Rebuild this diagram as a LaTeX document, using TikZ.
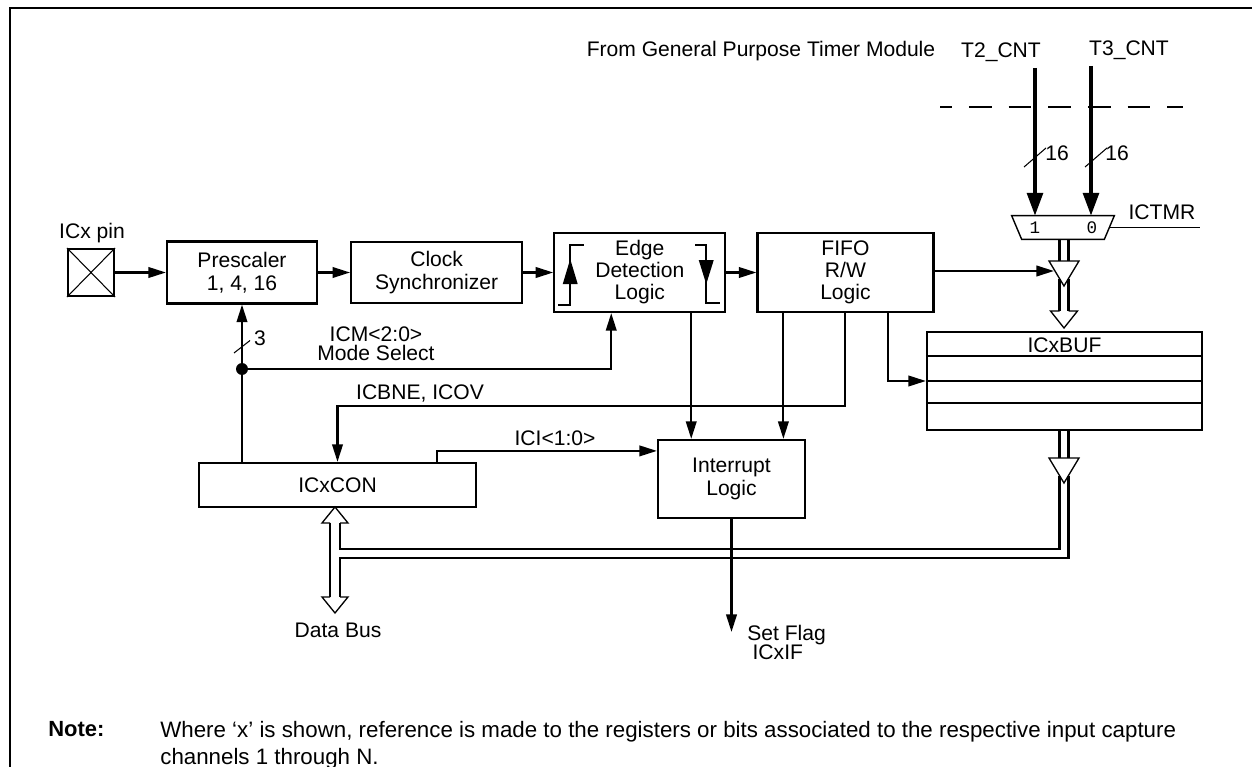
\documentclass[tikz,border=0pt]{standalone}
\usepackage{fontspec}
\setmainfont{Liberation Sans}
\newfontfamily\muxfont{Liberation Mono}
\usetikzlibrary{positioning,arrows.meta,calc}

\tikzset{
    block/.style={rectangle, draw, line width=1.25pt, inner sep=0pt, align=center, font=\fontsize{12}{13}\selectfont},
    lbl/.style={inner sep=0pt, align=center, font=\fontsize{12}{13}\selectfont},
    wire/.style={line width=1.25pt},
    arrow/.style={-{Triangle[length=10pt,width=6pt]}, line width=1.25pt},
    cntarrow/.style={-{Triangle[length=13pt,width=9pt]}, line width=2pt},
    thinline/.style={line width=0.6pt},
    buswire/.style={line width=1.2pt},
    bushead/.style={line width=0.75pt, line join=miter},
    muxlbl/.style={inner sep=0pt, font=\muxfont\fontsize{10}{10}\selectfont}
}

\begin{document}
\begin{tikzpicture}[x=0.02cm, y=-0.02cm]
\useasboundingbox (0,0) rectangle (1252,767);
\draw[line width=1.15pt] (10.3,767) -- (10.3,8.3) -- (1252,8.3);

% timer inputs
\node[lbl] (gpt) at (761,51) {From General Purpose Timer Module};
\node[lbl] (t2) at (1001,52) {T2\_CNT};
\node[lbl] (t3) at (1129,50) {T3\_CNT};
\coordinate (t2top) at (1035,68);
\coordinate (t3top) at (1091,66);
\coordinate (dashl) at (940,107);
\coordinate (dashr) at (1183,107);
\draw[wire, dash pattern=on 13pt off 9.6pt, dash phase=6.2pt] (dashl) -- (dashr);

\node[minimum width=2.04cm, minimum height=0.46cm, inner sep=0pt] (mux) at (1063,227.5) {};
\draw[line width=0.8pt] (mux.north west) -- (mux.north east) -- ($(mux.south east)+(-10,0)$) -- ($(mux.south west)+(10,0)$) -- cycle;
\node[muxlbl] (mux1) at (1035,228) {1};
\node[muxlbl] (mux0) at (1092,228) {0};
\node[lbl] (ictmrlbl) at (1162,212) {ICTMR};
\coordinate (ictmr) at (1200,227.5);
\draw[line width=0.8pt] ($(mux.east)+(-5,0)$) -- (ictmr);

\draw[cntarrow] (t2top) -- (t2top |- mux.north);
\draw[cntarrow] (t3top) -- (t3top |- mux.north);
\draw[thinline] ($(t2top)+(-11,99)$) -- ++(22,-19);
\draw[thinline] ($(t3top)+(-6,101)$) -- ++(22,-19);
\node[lbl] (w2) at (1057,153) {16};
\node[lbl] (w3) at (1117,153) {16};

% main row
\node[block, minimum width=0.92cm, minimum height=0.94cm] (pin) at (91,272.5) {};
\draw[thinline] (pin.north west) -- (pin.south east) (pin.north east) -- (pin.south west);
\node[lbl] (pinlbl) at (92,233) {ICx pin};

\node[block, minimum width=3cm, minimum height=1.24cm] (presc) at (242,272.5) {Prescaler\\1, 4, 16};
\node[block, minimum width=3.42cm, minimum height=1.22cm, right=0.64cm of presc] (clksync) {Clock\\Synchronizer};
\node[block, minimum width=3.42cm, minimum height=1.58cm, right=0.6cm of clksync, font=\fontsize{12}{12.5}\selectfont] (edge) {Edge\\Detection\\Logic};
\node[block, minimum width=3.52cm, minimum height=1.58cm, right=0.6cm of edge, font=\fontsize{12}{12.5}\selectfont] (fifo) {FIFO\\R/W\\Logic};

\draw[arrow] (pin) -- (presc);
\draw[arrow] (presc) -- (clksync);
\draw[arrow] (clksync) -- (edge);
\draw[arrow] (edge) -- (fifo);

\begin{scope}[shift={(edge.south west)}]
\draw[wire] (5,-8) -- (17,-8) -- (17,-68) -- (31,-68);
\fill (9.5,-29) -- (24.5,-29) -- (17,-54) -- cycle;
\draw[wire] (142,-68) -- (153,-68) -- (153,-10) -- (167,-10);
\fill (145.5,-53) -- (160.5,-53) -- (153,-29) -- cycle;
\end{scope}

\node[block, minimum width=5.5cm, minimum height=1.96cm] (buf) at (1064.5,381) {};
\node[lbl] (buflbl) at (1064.5,345) {ICxBUF};
\foreach \yy in {357,382,404}
    \draw[wire] ($(buf.north west)+(0,\yy-332)$) -- ($(buf.north east)+(0,\yy-332)$);

\node[block, minimum width=2.94cm, minimum height=1.56cm] (intlogic) at (731.5,479) {Interrupt\\Logic};
\node[block, minimum width=5.54cm, minimum height=0.88cm] (icxcon) at (337.5,485) {ICxCON};

% control lines
\coordinate (dot) at (242,369);
\draw[wire] (icxcon.north -| dot) -- (dot);
\draw[arrow] (dot) -- (presc.south);
\fill (dot) circle[radius=0.12cm];
\draw[arrow] (dot) -| ($(edge.south west)+(58,0)$);
\draw[thinline] (234,353) -- (250,340.5);
\node[lbl] (w1) at (260,338) {3};
\node[lbl, font=\fontsize{12}{11}\selectfont] (icmlbl) at (376,344) {ICM<2:0>\\Mode Select};

\coordinate (fifoflag) at ($(fifo.south west)+(89,0)$);
\draw[arrow] (fifoflag) -- ++(0,93) -| (icxcon.north);
\node[lbl] (icbnelbl) at (420,393) {ICBNE, ICOV};

\coordinate (edgeint) at ($(edge.south west)+(138,0)$);
\draw[arrow] (edgeint) -- (edgeint |- intlogic.north);
\coordinate (fifoint) at ($(fifo.south west)+(27,0)$);
\draw[arrow] (fifoint) -- (fifoint |- intlogic.north);
\coordinate (fifobuf) at ($(fifo.south west)+(132,0)$);
\draw[arrow] (fifobuf) |- (buf.west);

\coordinate (tri1) at (1064,261);
\coordinate (tri1in) at ($(tri1)+(-10,10)$);
\draw[arrow] (fifo.east |- tri1in) -- (tri1in);

\coordinate (iciout) at ($(icxcon.north west)+(239,0)$);
\draw[arrow] (iciout) |- ($(intlogic.north west)+(0,12)$);
\node[lbl] (icilbl) at (555,438) {ICI<1:0>};

\coordinate (flag) at (731.5,632);
\draw[arrow] (intlogic.south) -- (flag);
\node[lbl, align=left, anchor=north west, font=\fontsize{12}{11.3}\selectfont] (flaglbl) at (747,624.5) {Set Flag\\\hspace*{3pt}ICxIF};

% buses
\draw[buswire] (1059.5,239) -- (1059.5,261) (1068.5,239) -- (1068.5,261);
\draw[bushead] (tri1) ++(-15,0) -- ++(30,0) -- ++(-15,25) -- cycle;
\draw[buswire] (1059.5,279) -- (1059.5,311) (1068.5,279) -- (1068.5,311);
\draw[bushead] (1059.5,311) -- (1050.5,311) -- (1064,328) -- (1077.5,311) -- (1068.5,311);

\coordinate (tri2) at (1064,458);
\draw[buswire] (1059.5,430) -- (1059.5,458) (1068.5,430) -- (1068.5,458);
\draw[bushead] (tri2) ++(-15,0) -- ++(30,0) -- ++(-15,25) -- cycle;
\draw[buswire] (330,523) -- (330,597);
\draw[buswire] (340,523) -- (340,549) -- (1059.5,549) -- (1059.5,476);
\draw[buswire] (1068.5,476) -- (1068.5,558) -- (340,558) -- (340,597);
\draw[bushead] (330,523) -- (322,523) -- (335,507) -- (348,523) -- (340,523);
\draw[bushead] (330,597) -- (322,597) -- (335,613) -- (348,597) -- (340,597);
\node[lbl] (dbuslbl) at (338,630) {Data Bus};

% note
\node[lbl, anchor=west, font=\fontsize{12.5}{13}\selectfont\bfseries] (notehd) at (48,729) {Note:};
\node[lbl, anchor=north west, align=left, font=\fontsize{12.7}{15.3}\selectfont] (notetxt) at (160,721) {Where `x' is shown, reference is made to the registers or bits associated to the respective input capture\\channels 1 through N.};
\end{tikzpicture}
\end{document}
